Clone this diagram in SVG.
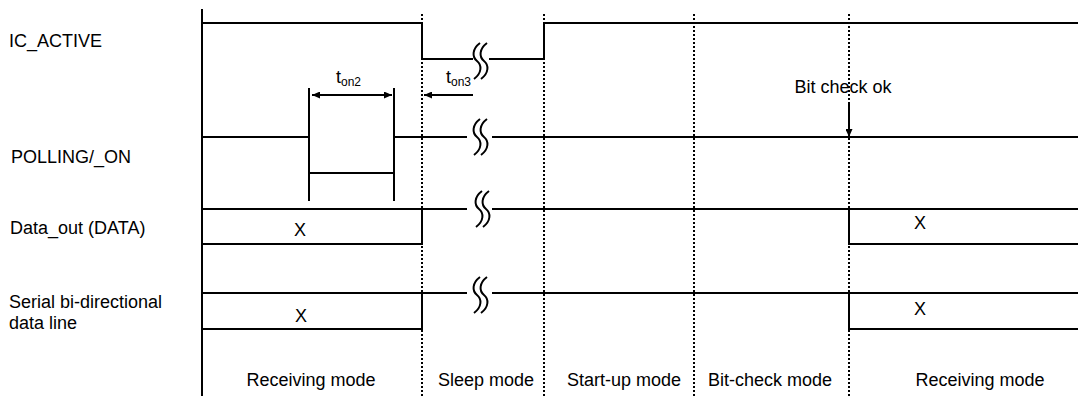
<svg xmlns="http://www.w3.org/2000/svg" width="1078" height="396" viewBox="0 0 1078 396">
<style>
.sig{fill:none;stroke:#000;stroke-width:2}
.dot{fill:none;stroke:#000;stroke-width:2;stroke-dasharray:2 2}
.brk{fill:none;stroke:#000;stroke-width:2}
.ar{fill:none;stroke:#000;stroke-width:2}
text{font-family:"Liberation Sans",Arial,sans-serif;font-size:18px;fill:#000}
.sub{font-size:12px}
.mid{text-anchor:middle}
</style>
<defs>
<marker id="ah" markerUnits="userSpaceOnUse" markerWidth="8" markerHeight="7" refX="8" refY="3.5" orient="auto-start-reverse">
<path d="M0,0 L8,3.5 L0,7 z" fill="#000"/>
</marker>
<path id="brk" d="M3,-18 C-5,-12 -5,-4 0,0 C5,4 5,12 -3,18 M10,-18 C2,-12 2,-4 7,0 C12,4 12,12 4,18"/>
</defs>
<rect width="1078" height="396" fill="#fff"/>
<g id="grid">
<line class="sig" x1="202" y1="9" x2="202" y2="396"/>
<line class="dot" x1="422" y1="14" x2="422" y2="396"/>
<line class="dot" x1="544" y1="14" x2="544" y2="396"/>
<line class="dot" x1="694" y1="14" x2="694" y2="396"/>
<line class="dot" x1="849" y1="14" x2="849" y2="396"/>
</g>
<g id="labels">
<text x="9" y="47">IC_ACTIVE</text>
<text x="11" y="163">POLLING/_ON</text>
<text x="10" y="234">Data_out (DATA)</text>
<text x="9" y="308">Serial bi-directional</text>
<text x="9" y="329">data line</text>
</g>
<g id="ic_active">
<path class="sig" d="M202,23 H422 V59 H473 M489,59 H544 V23 H1078"/>
<use href="#brk" class="brk" x="477" y="61"/>
</g>
<g id="polling">
<path class="sig" d="M202,137 H309 M309,88 V201 M309,173 H394 M394,88 V201 M394,137 H467 M492,137 H1078"/>
<use href="#brk" class="brk" x="477" y="137"/>
</g>
<g id="data_out">
<path class="sig" d="M202,209 H467 M492,209 H1078 M202,244 H422 V209 M849,209 V244 H1078"/>
<use href="#brk" class="brk" x="479" y="209"/>
<text class="mid" x="300" y="236">X</text>
<text class="mid" x="920" y="229">X</text>
</g>
<g id="serial">
<path class="sig" d="M202,293 H467 M492,293 H1078 M202,329 H422 V293 M849,293 V329 H1078"/>
<use href="#brk" class="brk" x="477" y="295"/>
<text class="mid" x="301" y="322">X</text>
<text class="mid" x="920" y="315">X</text>
</g>
<g id="connectors">
<line class="ar" x1="312" y1="95" x2="392" y2="95" marker-start="url(#ah)" marker-end="url(#ah)"/>
<line class="ar" x1="473" y1="95" x2="424" y2="95" marker-end="url(#ah)"/>
<line class="ar" x1="849" y1="102" x2="849" y2="137" marker-end="url(#ah)"/>
</g>
<g id="timing_labels">
<text x="336" y="83">t<tspan class="sub" dy="3">on2</tspan></text>
<text x="446" y="83">t<tspan class="sub" dy="3">on3</tspan></text>
<text class="mid" x="843" y="93">Bit check ok</text>
</g>
<g id="modes">
<text class="mid" x="311" y="386">Receiving mode</text>
<text class="mid" x="486" y="386">Sleep mode</text>
<text class="mid" x="624" y="386">Start-up mode</text>
<text class="mid" x="770" y="386">Bit-check mode</text>
<text class="mid" x="980" y="386">Receiving mode</text>
</g>
</svg>
